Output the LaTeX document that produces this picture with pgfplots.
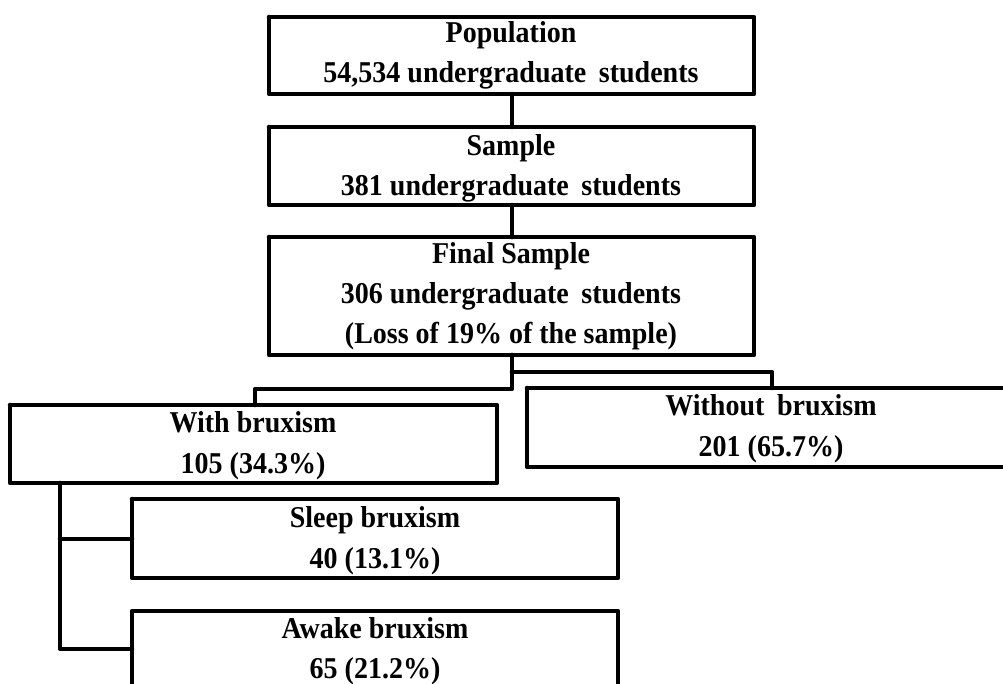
\documentclass[border=0pt]{standalone}
\usepackage{fontspec}
\setmainfont{Liberation Serif}
\usepackage{graphicx}
\usepackage{pgfplots}
\pgfplotsset{compat=1.18}
\newcommand{\T}[1]{\scalebox{1}[1.08]{#1}}
\begin{document}
\begin{tikzpicture}[txt/.style={anchor=base, inner sep=0pt, font=\fontsize{14bp}{16bp}\selectfont\bfseries},
  bx/.style={draw=black, solid, line width=2.3bp, line join=round, line cap=round, mark=none}]
\begin{axis}[
  scale only axis, width=501.5bp, height=342bp,
  xmin=0, xmax=1003, ymin=0, ymax=684, y dir=reverse,
  axis lines=none, clip=true,
  axis background/.style={fill=white},
]
% boxes
\addplot[bx] coordinates {(269,17) (754,17) (754,94) (269,94) (269,17)};
\addplot[bx] coordinates {(269,127) (754,127) (754,205) (269,205) (269,127)};
\addplot[bx] coordinates {(269,237) (754,237) (754,355) (269,355) (269,237)};
\addplot[bx] coordinates {(10,405) (497,405) (497,483) (10,483) (10,405)};
\addplot[bx] coordinates {(527,388) (1015,388) (1015,467) (527,467) (527,388)};
\addplot[bx] coordinates {(132,499) (618,499) (618,578) (132,578) (132,499)};
\addplot[bx] coordinates {(132,700) (132,611) (618,611) (618,700)};
% connectors
\addplot[bx] coordinates {(512,94) (512,127)};
\addplot[bx] coordinates {(512,205) (512,237)};
\addplot[bx] coordinates {(512,355) (512,389) (255,389) (255,405)};
\addplot[bx] coordinates {(512,372) (772,372) (772,388)};
\addplot[bx] coordinates {(60,483) (60,649) (132,649)};
\addplot[bx] coordinates {(60,539) (132,539)};
% texts
\node[txt] at (axis cs:511,43) {\T{Population}};
\node[txt] at (axis cs:511,82) {\T{54,534 undergraduate\hspace{0.2em} students}};
\node[txt] at (axis cs:511,155) {\T{Sample}};
\node[txt] at (axis cs:511,195) {\T{381 undergraduate\hspace{0.2em} students}};
\node[txt] at (axis cs:511,263) {\T{Final Sample}};
\node[txt] at (axis cs:511,303) {\T{306 undergraduate\hspace{0.2em} students}};
\node[txt] at (axis cs:511,343) {\T{(Loss of 19\% of the sample)}};
\node[txt] at (axis cs:253,432) {\T{With bruxism}};
\node[txt] at (axis cs:253,473) {\T{105 (34.3\%)}};
\node[txt] at (axis cs:771,415) {\T{Without\hspace{0.2em} bruxism}};
\node[txt] at (axis cs:771,456) {\T{201 (65.7\%)}};
\node[txt] at (axis cs:375,527) {\T{Sleep bruxism}};
\node[txt] at (axis cs:375,568) {\T{40 (13.1\%)}};
\node[txt] at (axis cs:375,638) {\T{Awake bruxism}};
\node[txt] at (axis cs:375,678) {\T{65 (21.2\%)}};
\end{axis}
\end{tikzpicture}
\end{document}
